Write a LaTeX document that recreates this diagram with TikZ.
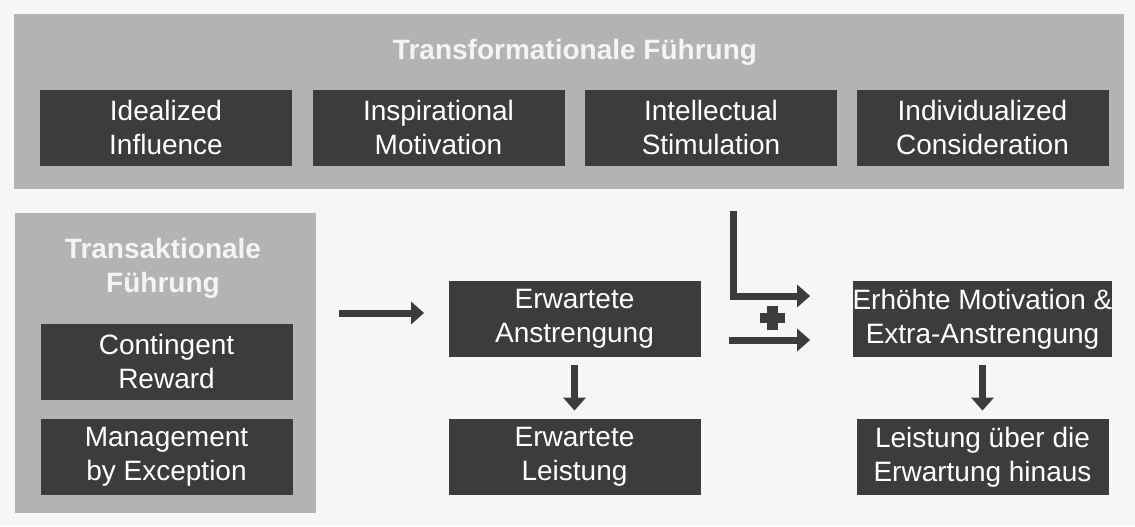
\documentclass[tikz,border=0pt]{standalone}
\usepackage{fontspec}
\setmainfont{Liberation Sans}
\usetikzlibrary{arrows.meta,calc}
\definecolor{bgcol}{HTML}{F6F6F6}
\definecolor{panelcol}{HTML}{B3B3B3}
\definecolor{boxcol}{HTML}{3C3C3C}
\definecolor{titlecol}{HTML}{F4F4F4}

\tikzset{
  darkbox/.style={fill=boxcol, text=white, minimum width=126pt, minimum height=38pt,
    align=center, inner sep=0pt, font=\fontsize{14}{17}\selectfont},
  panel/.style={fill=panelcol, inner sep=0pt},
  paneltitle/.style={text=titlecol, align=center, font=\fontsize{14}{17}\selectfont\bfseries},
  arr/.style={draw=boxcol, line width=3.5pt, -{Triangle[length=6.5pt,width=11pt]}},
}

\begin{document}
\begin{tikzpicture}[x=0.5pt, y=-0.5pt]
  \fill[bgcol] (0,0) rectangle (1135,526);
  \useasboundingbox (0,0) rectangle (1135,526);

  % panels
  \node[panel, minimum width=555pt, minimum height=87.5pt] (transf) at (569,101.5) {};
  \node[panel, minimum width=150.5pt, minimum height=150pt] (transak) at (165.5,363) {};

  \node[paneltitle] (transftitle) at (575,52) {Transformationale Führung};
  \node[paneltitle] (transaktitle) at (163,268) {Transaktionale\\Führung};

  % top row
  \node[darkbox] (ideal)  at (166,127.5)   {Idealized\\Influence};
  \node[darkbox] (inspir) at (438.5,127.5) {Inspirational\\Motivation};
  \node[darkbox] (intell) at (711,127.5)   {Intellectual\\Stimulation};
  \node[darkbox] (indiv)  at (982.5,127.5) {Individualized\\Consideration};

  % left column
  \node[darkbox] (contrew) at (166.5,361.5) {Contingent\\Reward};
  \node[darkbox] (mbe)     at (166.5,457)   {Management\\by Exception};

  % middle and right
  \node[darkbox] (erwanstr) at (574.5,319) {Erwartete\\Anstrengung};
  \node[darkbox] (erwleist) at (574.5,457) {Erwartete\\Leistung};
  \node[darkbox] (erhmot)   at (982.5,319) {Erhöhte Motivation \&\\Extra-Anstrengung};
  \node[darkbox] (leistub)  at (982.5,457) {Leistung über die\\Erwartung hinaus};

  \coordinate (astart) at (339,313);
  \coordinate (lstart) at (733,211);
  \coordinate (bstart) at (729,340);
  \coordinate (plus) at (772,318);

  \draw[arr, shorten >=12pt] (astart) -- (astart -| erwanstr.west);
  \draw[arr, shorten <=4pt, shorten >=4pt] (erwanstr) -- (erwleist);
  \draw[arr, shorten <=4pt, shorten >=4pt] (erhmot) -- (leistub);
  \draw[arr, shorten >=21pt] (lstart) |- ([yshift=11.5pt]erhmot.west);
  \draw[arr, shorten >=21pt] (bstart) -- (bstart -| erhmot.west);

  % plus sign
  \draw[boxcol, line width=5pt] ($(plus)+(-12.5,0)$) -- ($(plus)+(12.5,0)$);
  \draw[boxcol, line width=5.5pt] ($(plus)+(0,-12)$) -- ($(plus)+(0,12)$);
\end{tikzpicture}
\end{document}
